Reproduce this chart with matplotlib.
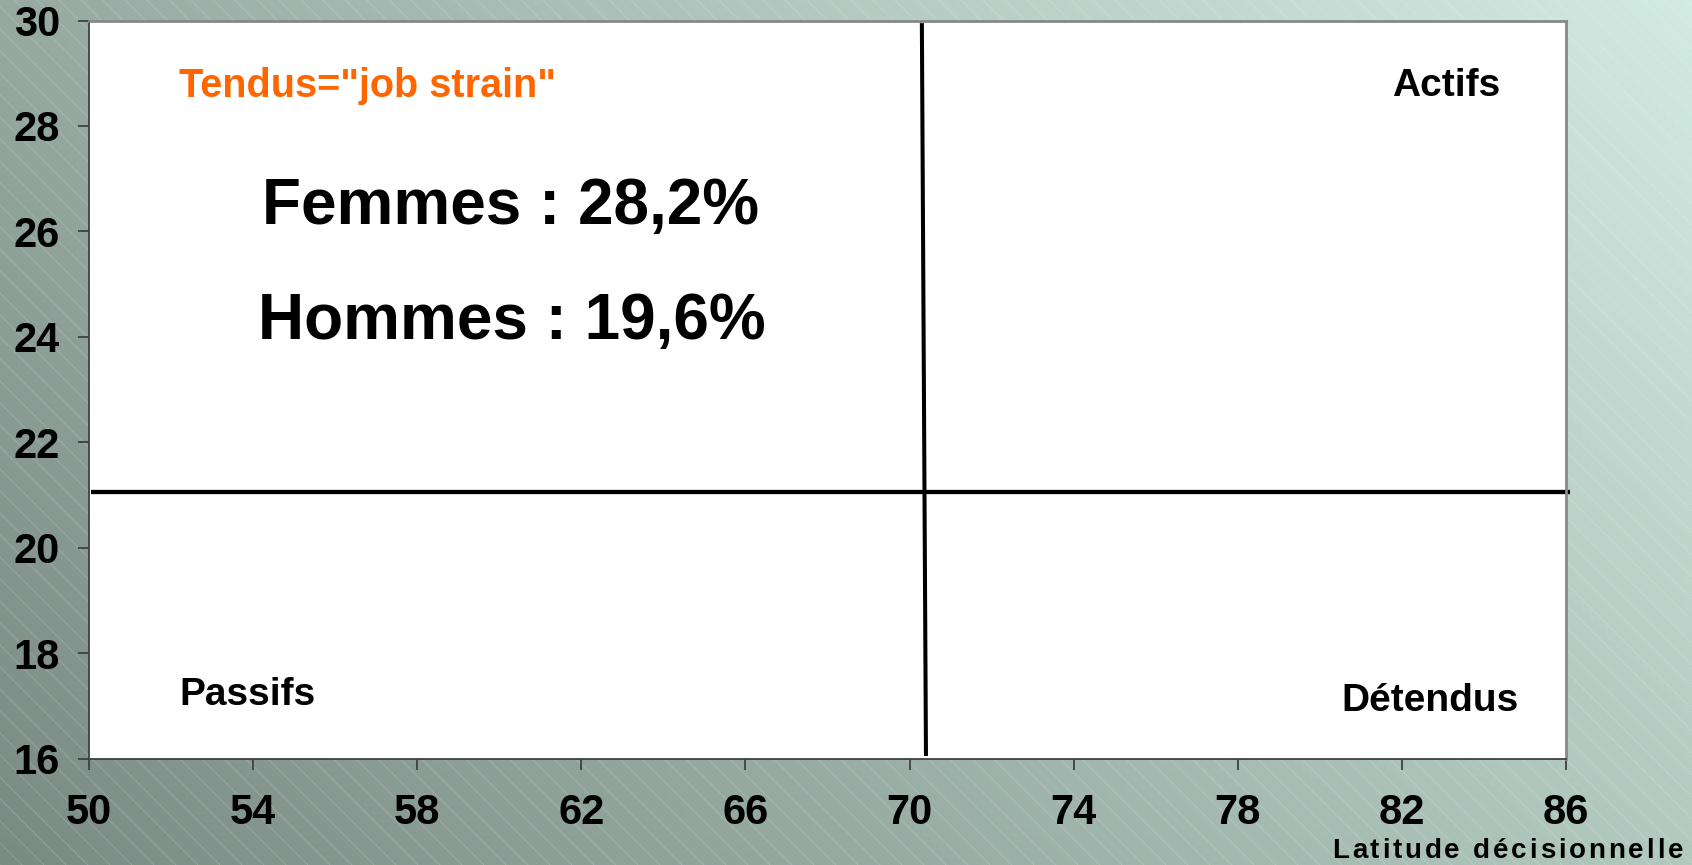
import numpy as np
import matplotlib
matplotlib.use("Agg")
import matplotlib.pyplot as plt
from matplotlib.colors import to_rgb
from matplotlib.font_manager import FontProperties

plt.rcParams['font.family'] = ['Liberation Sans', 'DejaVu Sans']

# axis ranges / ticks
x_ticks = [50, 54, 58, 62, 66, 70, 74, 78, 82, 86]
y_ticks = [16, 18, 20, 22, 24, 26, 28, 30]

# quadrant separators (latitude, demande)
vline_x = [70.3, 70.4]
vline_y = [29.95, 16.05]
hline_x = [50.05, 86.1]
hline_y = [21.05, 21.05]

# annotations
titre = 'Tendus="job strain"'
stats = ["Femmes : 28,2%", "Hommes : 19,6%"]
stats_pos = [(60.28, 26.47), (60.3, 24.28)]
quadrants = {"Actifs": (84.4, 28.75), "Passifs": (52.2, 17.2), "Détendus": (84.84, 17.1)}
xlabel = "Latitude décisionnelle"

W, H = 1692, 865
fig = plt.figure(figsize=(W / 100, H / 100), dpi=100)

# background: diagonal gradient + faint hatch
bg = fig.add_axes([0, 0, 1, 1], zorder=-10)
tl, tr = np.array(to_rgb("#96aaa2")), np.array(to_rgb("#d2ebe2"))
bl, br = np.array(to_rgb("#7a8b84")), np.array(to_rgb("#b2c9c0"))
u = np.linspace(0, 1, 200)[None, :, None]
v = np.linspace(0, 1, 120)[:, None, None]
top = tl * (1 - u) + tr * u
bot = bl * (1 - u) + br * u
img = top * (1 - v) + bot * v
bg.imshow(img, extent=[0, W, 0, H], aspect='auto', origin='upper')
for x0 in np.arange(-H, W + 20, 22):
    bg.plot([x0, x0 + H], [H, 0], color='white', lw=0.6, alpha=0.2)
bg.set_xlim(0, W)
bg.set_ylim(0, H)
bg.axis('off')

ax = fig.add_axes([89 / W, 1 - 758.6 / H, (1566 - 89) / W, (758.6 - 20.5) / H])
ax.set_facecolor('white')
ax.set_xlim(x_ticks[0], x_ticks[-1])
ax.set_ylim(y_ticks[0], y_ticks[-1])
ax.set_xticks(x_ticks)
ax.set_yticks(y_ticks)
ax.tick_params(axis='both', direction='out', length=8, width=1.3, color='#404040',
               labelsize=30)
ax.tick_params(axis='x', pad=17)
ax.tick_params(axis='y', pad=13)
for lab in ax.get_xticklabels() + ax.get_yticklabels():
    lab.set_fontweight('bold')
for s in ['left', 'bottom']:
    ax.spines[s].set_color('#404040')
    ax.spines[s].set_linewidth(1.3)
for s in ['top', 'right']:
    ax.spines[s].set_color('#888888')
    ax.spines[s].set_linewidth(2)

ax.plot(vline_x, vline_y, color='black', lw=2.9, clip_on=False, solid_capstyle='butt')
ax.plot(hline_x, hline_y, color='black', lw=3.1, clip_on=False, solid_capstyle='butt')

ax.text(52.2, 28.75, titre, color='#ff6600', fontsize=28.5, fontweight='bold', va='center')
for s_txt, (sx, sy) in zip(stats, stats_pos):
    ax.text(sx, sy, s_txt, fontsize=46, fontweight='bold', ha='center', va='center')
for name, (qx, qy) in quadrants.items():
    ha = 'left' if name == "Passifs" else 'right'
    ax.text(qx, qy, name, fontsize=28, fontweight='bold', ha=ha, va='center')

# letter-spaced x label, right aligned
renderer = fig.canvas.get_renderer()
fp = FontProperties(family='Liberation Sans', weight='bold', size=20)
widths = []
for ch in xlabel:
    w_, h_, d_ = renderer.get_text_width_height_descent(ch if ch != ' ' else 'i', fp, ismath=False)
    widths.append(w_)
x_left, x_right = 1332, 1683
spacing = (x_right - x_left - sum(widths)) / (len(xlabel) - 1)
xpos = x_left
for ch, w_ in zip(xlabel, widths):
    fig.text(xpos / W, 1 - 851 / H, ch, fontproperties=fp, ha='left', va='center')
    xpos += w_ + spacing

fig.savefig("out.png", dpi=100)
